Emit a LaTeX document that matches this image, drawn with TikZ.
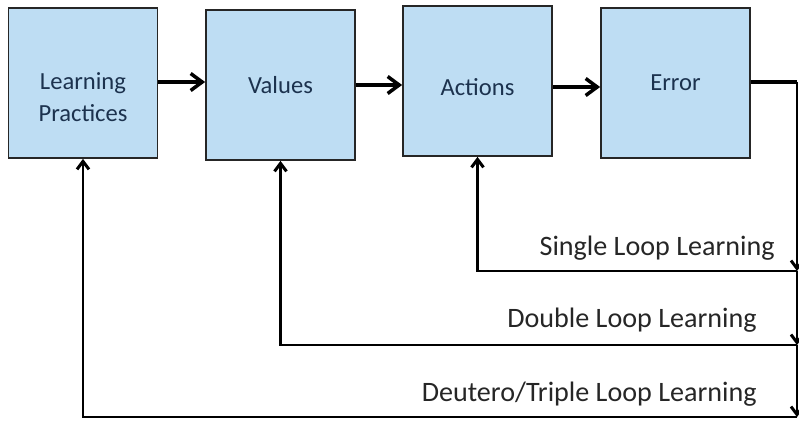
\documentclass[tikz,border=0pt]{standalone}
\usepackage{fontspec}
\setmainfont{Carlito}
\usetikzlibrary{arrows.meta}
\definecolor{boxblue}{RGB}{190,221,243}
\definecolor{navy}{RGB}{28,50,78}
\tikzset{
    stage/.style={rectangle, draw=black!85, line width=1pt, fill=boxblue, minimum width=2.98cm, minimum height=3cm, inner sep=0mm, align=center, text=navy, font=\fontsize{14}{17}\selectfont},
    loopname/.style={anchor=east, inner sep=0mm, text=black!85, font=\fontsize{16}{19}\selectfont},
    fwd/.style={line width=2pt, -{Straight Barb[length=2.3mm, width=3.4mm]}},
    fb/.style={line width=1.7pt, -{Straight Barb[length=1.6mm, width=2.4mm]}}
}
\begin{document}
\begin{tikzpicture}[x=0.02cm, y=-0.02cm]
  \useasboundingbox (0,0) rectangle (799,420);
  \node (lp) [stage] at (83,83) {\rule{0pt}{26pt}Learning\\[1pt]Practices};
  \node (val) [stage] at (280.5,85) {Values};
  \node (act) [stage] at (477.5,81) {\rule{0pt}{17pt}Actions};
  \node (err) [stage] at (675.5,83) {Error};

  \coordinate (c0) at (797,82);
  \coordinate (s1) at (797,271);
  \coordinate (s2) at (797,345);
  \coordinate (s3) at (797,417);

  \node (l1) [loopname] at (775,248) {Single Loop Learning};
  \node (l2) [loopname] at (757,320) {Double Loop Learning};
  \node (l3) [loopname] at (757,394) {Deutero/Triple Loop Learning};

  \draw [fwd] (lp.east |- 0,82) -- (val.west |- 0,82);
  \draw [fwd] (val.east |- 0,85) -- (act.west |- 0,85);
  \draw [fwd] (act.east |- 0,87) -- (err.west |- 0,87);
  \draw [line width=2pt] (err.east |- c0) -- (c0);

  \draw [fb] (c0) -- (s1);
  \draw [fb] (s1) -- (s2);
  \draw [fb] (s2) -- (s3);

  \draw [fb] (s1) -- (act.south |- s1) -- (act.south);
  \draw [fb] (s2) -- (val.south |- s2) -- (val.south);
  \draw [fb] (s3) -- (lp.south |- s3) -- (lp.south);
\end{tikzpicture}
\end{document}
